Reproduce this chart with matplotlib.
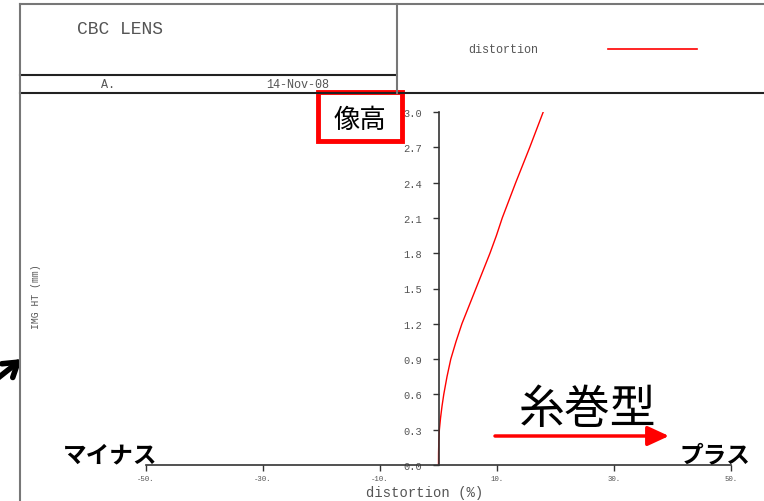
import matplotlib
matplotlib.use("Agg")
import matplotlib.pyplot as plt
from matplotlib.lines import Line2D
from matplotlib.patches import Rectangle, FancyArrowPatch

# image height (mm) vs distortion (%)
img_ht = [0.0, 0.1, 0.2, 0.3, 0.4, 0.5, 0.6, 0.75, 0.9, 1.05, 1.2, 1.35, 1.5, 1.65, 1.8, 1.95, 2.1, 2.4, 2.7, 3.0]
distortion = [0.0, 0.01, 0.05, 0.15, 0.35, 0.6, 0.9, 1.45, 2.1, 3.0, 4.0, 5.2, 6.4, 7.6, 8.8, 9.9, 10.9, 13.2, 15.6, 17.9]

x_ticks = [-50, -30, -10, 10, 30, 50]
y_ticks = [0.0, 0.3, 0.6, 0.9, 1.2, 1.5, 1.8, 2.1, 2.4, 2.7, 3.0]

lens_name = "CBC LENS"
rev = "A."
date = "14-Nov-08"

W, H = 764, 502
MONO = "Liberation Mono"
JP = ["Noto Sans CJK JP", "DejaVu Sans"]
TXT = "#555555"


def px(x, y):
    # pixel position -> figure fraction
    return x / W, 1 - y / H


fig = plt.figure(figsize=(W / 100, H / 100), dpi=100)
x0, y0 = px(146, 466)
x1, y1 = px(731, 113)
ax = fig.add_axes([x0, y0, x1 - x0, y1 - y0])

ax.plot(distortion, img_ht, color="red", lw=1.0)
ax.set_xlim(-50, 50)
ax.set_ylim(0, 3.0)

ax.spines["top"].set_visible(False)
ax.spines["right"].set_visible(False)
ax.spines["left"].set_position(("data", 0))
for s in ("left", "bottom"):
    ax.spines[s].set_color("#333333")
    ax.spines[s].set_linewidth(1.2)

ax.set_xticks(x_ticks)
ax.set_xticklabels([f"{v}." for v in x_ticks], fontfamily=MONO, fontsize=5.3, color=TXT)
ax.set_yticks(y_ticks)
ax.set_yticklabels([f"{v:.1f}" for v in y_ticks], fontfamily=MONO, fontsize=7.5, color=TXT)
ax.tick_params(axis="both", direction="out", length=4, width=1, color="#333333", pad=3)
ax.tick_params(axis="y", pad=8)

ax.set_xlabel("distortion (%)", fontfamily=MONO, fontsize=10, color=TXT)
ax.xaxis.set_label_coords((425 - 146) / 585, (466 - 486) / 353)
ax.set_ylabel("IMG HT (mm)", fontfamily=MONO, fontsize=7, color=TXT)
ax.yaxis.set_label_coords((41 - 146) / 585, (466 - 297) / 353)

# title block
grey = "#777777"
frame = [((20, 5), (764, 5), grey), ((20, 76), (396, 76), "#222222"),
         ((20, 94), (764, 94), "#222222"), ((397, 5), (397, 94), grey),
         ((20, 5), (20, 502), grey)]
for (xa, ya), (xb, yb), c in frame:
    (fa, ga), (fb, gb) = px(xa, ya), px(xb, yb)
    fig.add_artist(Line2D([fa, fb], [ga, gb], color=c, lw=1.5))

fig.text(*px(77, 30), lens_name, fontfamily=MONO, fontsize=13, color=TXT, va="center")
fig.text(*px(108, 85), rev, fontfamily=MONO, fontsize=8.5, color=TXT, va="center", ha="center")
fig.text(*px(298, 85), date, fontfamily=MONO, fontsize=8.5, color=TXT, va="center", ha="center")
fig.text(*px(468, 50), "distortion", fontfamily=MONO, fontsize=8.5, color=TXT, va="center")
(la, lb), (lc, ld) = px(608, 50), px(697, 50)
fig.add_artist(Line2D([la, lc], [lb, ld], color="red", lw=1.2))

# callouts
bx, by = px(318, 142)
fig.add_artist(Rectangle((bx, by), 84 / W, 49 / H, fill=False, edgecolor="red", lw=3.5))
fig.text(*px(360, 120), "像高", family=JP, fontsize=19, color="black", ha="center", va="center")

fig.text(*px(588, 410), "糸巻型", family=JP, fontsize=33, color="black", ha="center", va="center")
fig.add_artist(FancyArrowPatch(px(495, 437), px(669, 437), arrowstyle="-|>,head_length=1.3,head_width=0.6",
                               mutation_scale=10, color="red", lw=2.5, shrinkA=0, shrinkB=0))
fig.text(*px(715, 455), "プラス", family=JP, fontsize=17, fontweight="bold", color="black", ha="center", va="center")
fig.text(*px(110, 455), "マイナス", family=JP, fontsize=17, fontweight="bold", color="black", ha="center", va="center")
fig.add_artist(FancyArrowPatch(px(-2, 379), px(22, 360), arrowstyle="->,head_length=0.7,head_width=0.45",
                               mutation_scale=14, color="black", lw=4, shrinkA=0, shrinkB=0))

fig.savefig("out.png", dpi=100)
